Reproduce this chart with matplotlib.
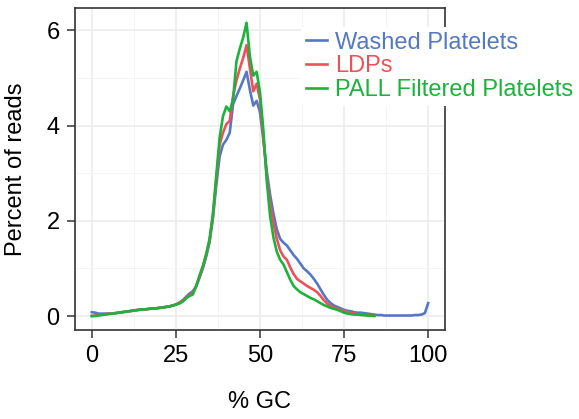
import numpy as np
import matplotlib
matplotlib.use("Agg")
import matplotlib.pyplot as plt
from matplotlib.ticker import MultipleLocator

plt.rcParams['font.family'] = ['Liberation Sans', 'DejaVu Sans']

# % GC bins
gc = np.arange(0, 101)
gc_short = np.arange(0, 85)

washed = [0.08, 0.07, 0.05, 0.05, 0.05, 0.05, 0.05, 0.06, 0.07, 0.08,
          0.09, 0.10, 0.11, 0.12, 0.13, 0.14, 0.14, 0.15, 0.16, 0.16,
          0.17, 0.18, 0.19, 0.20, 0.22, 0.24, 0.28, 0.33, 0.40, 0.47,
          0.52, 0.62, 0.80, 1.00, 1.25, 1.55, 2.05, 2.75, 3.35, 3.60,
          3.70, 3.85, 4.45, 4.62, 4.78, 4.95, 5.13, 4.75, 4.42, 4.52,
          4.28, 3.70, 3.05, 2.55, 2.15, 1.82, 1.62, 1.54, 1.48, 1.38,
          1.28, 1.20, 1.10, 1.00, 0.94, 0.87, 0.78, 0.68, 0.56, 0.44,
          0.34, 0.27, 0.22, 0.19, 0.16, 0.13, 0.11, 0.10, 0.08, 0.07,
          0.07, 0.06, 0.05, 0.04, 0.03, 0.02, 0.02, 0.01, 0.01, 0.01,
          0.01, 0.01, 0.01, 0.01, 0.01, 0.01, 0.02, 0.02, 0.03, 0.06,
          0.27]

ldps = [0.00, 0.01, 0.02, 0.03, 0.04, 0.05, 0.05, 0.06, 0.07, 0.08,
        0.09, 0.10, 0.11, 0.12, 0.13, 0.14, 0.14, 0.15, 0.16, 0.16,
        0.17, 0.18, 0.19, 0.20, 0.22, 0.24, 0.28, 0.32, 0.38, 0.44,
        0.48, 0.62, 0.82, 1.02, 1.28, 1.58, 2.10, 2.85, 3.60, 3.85,
        4.03, 4.10, 4.62, 4.95, 5.20, 5.42, 5.69, 5.20, 4.72, 4.88,
        4.55, 3.75, 2.95, 2.35, 1.95, 1.62, 1.38, 1.25, 1.18, 1.02,
        0.88, 0.78, 0.73, 0.68, 0.63, 0.59, 0.55, 0.50, 0.42, 0.33,
        0.26, 0.21, 0.18, 0.15, 0.13, 0.10, 0.08, 0.06, 0.05, 0.04,
        0.03, 0.02, 0.02, 0.01, 0.01]

pall = [0.00, 0.00, 0.01, 0.02, 0.03, 0.04, 0.05, 0.06, 0.07, 0.08,
        0.09, 0.10, 0.11, 0.12, 0.13, 0.14, 0.14, 0.15, 0.16, 0.16,
        0.17, 0.18, 0.19, 0.20, 0.22, 0.24, 0.26, 0.30, 0.37, 0.42,
        0.45, 0.62, 0.85, 1.05, 1.30, 1.62, 2.15, 2.95, 3.75, 4.20,
        4.40, 4.30, 4.55, 5.35, 5.62, 5.85, 6.16, 5.45, 5.05, 5.13,
        4.70, 3.90, 2.85, 2.10, 1.65, 1.35, 1.18, 1.08, 0.92, 0.76,
        0.63, 0.56, 0.50, 0.46, 0.42, 0.38, 0.35, 0.31, 0.27, 0.23,
        0.20, 0.17, 0.15, 0.13, 0.10, 0.07, 0.05, 0.04, 0.03, 0.03,
        0.02, 0.02, 0.01, 0.01, 0.00]

labels = ["Washed Platelets", "LDPs", "PALL Filtered Platelets"]
colors = ["#5578c4", "#ef5058", "#1db23c"]

fig = plt.figure(figsize=(5.79, 4.19), dpi=100)
ax = fig.add_axes([75 / 579, 1 - 330 / 419, 370 / 579, 322 / 419])

ax.plot(gc, washed, color=colors[0], lw=1.9, label=labels[0])
ax.plot(gc_short, ldps, color=colors[1], lw=1.9, label=labels[1])
ax.plot(gc_short, pall, color=colors[2], lw=1.9, label=labels[2])

ax.set_xlim(-5, 105)
ax.set_ylim(-0.294, 6.47)
ax.xaxis.set_major_locator(MultipleLocator(25))
ax.xaxis.set_minor_locator(MultipleLocator(12.5))
ax.yaxis.set_major_locator(MultipleLocator(2))
ax.yaxis.set_minor_locator(MultipleLocator(1))
ax.grid(which='major', color='#ebebeb', lw=1.1)
ax.grid(which='minor', color='#f2f2f2', lw=0.6)
ax.set_axisbelow(True)

for s in ax.spines.values():
    s.set_color('#333333')
    s.set_linewidth(1.2)
ax.tick_params(which='major', length=6, width=1.1, color='#333333',
               labelsize=17, pad=5)
ax.tick_params(which='minor', length=0)

ax.set_xlabel("% GC", fontsize=17, labelpad=17)
ax.set_ylabel("Percent of reads", fontsize=17, labelpad=14)

leg = ax.legend(loc='upper left', bbox_to_anchor=(289 / 579, 1 - 15 / 419),
                bbox_transform=fig.transFigure, fontsize=17, frameon=True,
                handlelength=0.9, handletextpad=0.35, labelspacing=0.08,
                borderpad=0.2, labelcolor='linecolor', fancybox=False)
leg.get_frame().set_facecolor('white')
leg.get_frame().set_edgecolor('none')
leg.get_frame().set_alpha(1)

fig.savefig("out.png", dpi=100)
